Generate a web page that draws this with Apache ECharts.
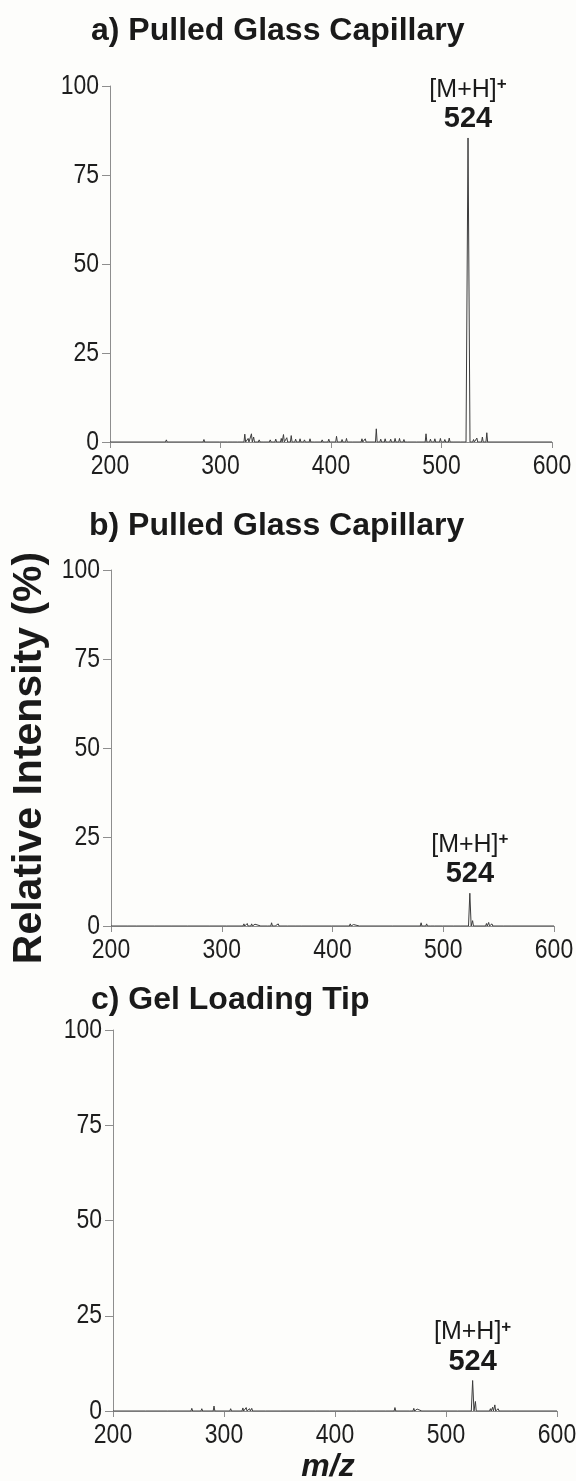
<!DOCTYPE html>
<html><head><meta charset="utf-8">
<script src="https://cdn.jsdelivr.net/npm/echarts@6/dist/echarts.min.js"></script>
<style>html,body{margin:0;padding:0;background:#fdfdfb;}#c{width:576px;height:1481px;}</style>
</head><body><div id="c"></div>
<script>
// ---- data (m/z, relative intensity %) ----
const xTicks = [200, 300, 400, 500, 600];
const yTicks = [0, 25, 50, 75, 100];
const titles = ['a) Pulled Glass Capillary', 'b) Pulled Glass Capillary', 'c) Gel Loading Tip'];
const ionLabel = '[M+H]';
const ionMz = 524;

const peaksA_mz  = [251,275,285,300,307,312,316,322,325,328,330,335,340,345,350,355,357,360,364,368,372,376,381,386,392,398,405,410,414,420,428,431,436,441,445,449,454,458,462,466,470,478,486,490,494,499,503,507,512,518,524,529,532,537,541,570];
const peaksA_int = [0.6,0.3,0.7,0.3,0.5,0.4,0.5,2.2,1.0,2.3,1.4,0.6,0.5,0.6,0.8,1.0,2.1,1.2,1.8,0.8,0.9,0.6,0.9,0.5,0.6,0.8,1.6,0.7,1.0,0.5,0.9,0.9,0.5,3.7,0.8,0.9,0.8,1.0,1.0,0.7,0.4,0.5,2.3,0.8,0.9,1.0,0.7,1.1,0.4,0.5,85.4,0.7,1.1,1.4,2.6,0.3];

const peaksB_mz  = [216,224,240,255,270,290,305,320,323,327,330,336,342,345,349,351,360,367,373,385,400,412,416,419,425,440,455,468,480,485,489,493,500,510,516,524,526.5,539,541,544,555,562];
const peaksB_int = [0.4,0.3,0.2,0.2,0.2,0.2,0.2,0.6,0.7,0.6,0.5,0.3,0.3,0.9,0.5,0.6,0.4,0.4,0.5,0.2,0.2,0.3,0.6,0.4,0.3,0.2,0.2,0.3,0.9,0.6,0.5,0.5,0.3,0.3,0.3,9.2,1.5,0.7,1.0,0.6,0.5,0.3];

const peaksC_mz  = [230,250,271,280,291,306,317,320,323,325,335,338,352,372,383,396,407,416,420,436,446,454,468,471,474,479,490,496,511,524,526.5,540,542,544,547,560];
const peaksC_int = [0.2,0.2,0.7,0.6,1.3,0.6,0.8,0.9,0.6,0.7,0.5,0.4,0.3,0.4,0.3,0.3,0.4,0.4,0.3,0.5,0.4,0.9,0.5,0.7,0.5,0.3,0.3,0.4,0.3,8.0,2.5,0.6,1.0,1.6,0.6,0.2];

// ---- build profile lines from peak lists ----
function profile(mz, inten, mainW) {
  const pts = [[200, 0]];
  for (let i = 0; i < mz.length; i++) {
    const w = mz[i] === ionMz ? mainW : 0.75;
    pts.push([mz[i] - w, 0], [mz[i], inten[i]], [mz[i] + w, 0]);
  }
  pts.push([600, 0]);
  return pts;
}

const grids = [
  {left: 110, top: 86, width: 442, height: 356},
  {left: 111, top: 570, width: 443, height: 356},
  {left: 113, top: 1030, width: 444, height: 381}
];
const axisColor = '#8e8e8e';
const FONT = '"Liberation Sans", Arial, sans-serif';
const datasets = [
  profile(peaksA_mz, peaksA_int, 1.8),
  profile(peaksB_mz, peaksB_int, 1.2),
  profile(peaksC_mz, peaksC_int, 1.2)
];

const option = {
  backgroundColor: '#fdfdfb',
  animation: false,
  grid: grids,
  xAxis: grids.map((g, i) => ({
    type: 'value', gridIndex: i, min: xTicks[0], max: xTicks[xTicks.length - 1], interval: 100,
    axisLine: {show: true, onZero: false, lineStyle: {color: axisColor, width: 1}},
    axisTick: {show: true, length: 6, lineStyle: {color: axisColor}},
    splitLine: {show: false},
    axisLabel: {show: false}
  })),
  yAxis: grids.map((g, i) => ({
    type: 'value', gridIndex: i, min: yTicks[0], max: yTicks[yTicks.length - 1], interval: 25,
    axisLine: {show: true, lineStyle: {color: axisColor, width: 1}},
    axisTick: {show: true, length: 8, lineStyle: {color: axisColor}},
    splitLine: {show: false},
    axisLabel: {show: false}
  })),
  series: datasets.map((d, i) => ({
    type: 'line', xAxisIndex: i, yAxisIndex: i, data: d, showSymbol: false,
    lineStyle: {color: '#3c3c3c', width: 1}, silent: true,
    markPoint: {
      symbol: 'circle', symbolSize: 0,
      data: [{coord: [ionMz, d.find(p => p[0] === ionMz)[1]]}],
      label: {
        show: true, position: 'top', distance: 4,
        formatter: '{a|' + ionLabel + '}{s|+}\n{b|' + ionMz + '}',
        rich: {
          a: {fontSize: 25, fontFamily: FONT, color: '#1a1a1a', lineHeight: 28},
          s: {fontSize: 17, fontWeight: 'bold', fontFamily: FONT, color: '#1a1a1a', verticalAlign: 'top', lineHeight: 28},
          b: {fontSize: 29, fontWeight: 'bold', fontFamily: FONT, color: '#1a1a1a', lineHeight: 30}
        }
      }
    }
  })),
  graphic: [
    {type: 'text', x: 91, y: 31, style: {text: titles[0], font: 'bold 32px ' + FONT, fill: '#1a1a1a', textVerticalAlign: 'middle'}},
    {type: 'text', x: 89, y: 526, style: {text: titles[1], font: 'bold 32px ' + FONT, fill: '#1a1a1a', textVerticalAlign: 'middle'}},
    {type: 'text', x: 91, y: 1000, style: {text: titles[2], font: 'bold 32px ' + FONT, fill: '#1a1a1a', textVerticalAlign: 'middle'}},
    {type: 'text', x: 30, y: 758, rotation: Math.PI / 2, style: {text: 'Relative Intensity (%)', font: 'bold 41px ' + FONT, fill: '#1a1a1a', textAlign: 'center', textVerticalAlign: 'middle'}},
    {type: 'text', x: 328, y: 1467, style: {text: 'm/z', font: 'italic bold 32px ' + FONT, fill: '#1a1a1a', textAlign: 'center', textVerticalAlign: 'middle'}}
  ]
};
const chart = echarts.init(document.getElementById('c'), null, {renderer: 'canvas'});
chart.setOption(option);

// condensed tick labels (narrow sans look), positioned through the axes' own scales
const tickLabels = [];
grids.forEach((g, i) => {
  xTicks.forEach(v => {
    const p = chart.convertToPixel({gridIndex: i}, [v, yTicks[0]]);
    tickLabels.push({type: 'text', x: p[0], y: p[1] + 24, scaleX: 0.82,
      style: {text: String(v), font: '28px ' + FONT, fill: '#1e1e1e', textAlign: 'center', textVerticalAlign: 'middle'}});
  });
  yTicks.forEach(v => {
    const p = chart.convertToPixel({gridIndex: i}, [xTicks[0], v]);
    tickLabels.push({type: 'text', x: p[0] - 11, y: p[1], scaleX: 0.82,
      style: {text: String(v), font: '28px ' + FONT, fill: '#1e1e1e', textAlign: 'right', textVerticalAlign: 'middle'}});
  });
});
chart.setOption({graphic: option.graphic.concat(tickLabels)});
</script></body></html>
